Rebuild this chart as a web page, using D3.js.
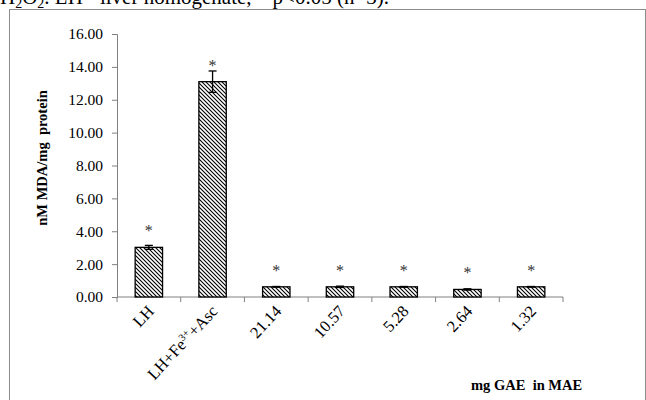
<!DOCTYPE html>
<html>
<head>
<meta charset="utf-8">
<script src="https://cdn.jsdelivr.net/npm/d3@7"></script>
<style>
  html, body { margin: 0; padding: 0; background: #fff; }
  svg { display: block; }
  text { font-family: "Liberation Serif", "Times New Roman", serif; }
</style>
</head>
<body>
<svg id="chart" width="646" height="400"></svg>
<script>
// Treatment groups (x axis)
const categories = ["LH", "LH+Fe3++Asc", "21.14", "10.57", "5.28", "2.64", "1.32"];
// Mean MDA (nM/mg protein)
const means = [3.02, 13.1, 0.62, 0.62, 0.62, 0.46, 0.62];
// Standard errors
const errors = [0.12, 0.65, 0.02, 0.04, 0.02, 0.04, 0.02];
// Significance markers
const marks = ["*", "*", "*", "*", "*", "*", "*"];
// Y axis ticks
const yTicks = [0, 2, 4, 6, 8, 10, 12, 14, 16];

const svg = d3.select("#chart");

// hatched fill for the bars
const defs = svg.append("defs");
const pat = defs.append("pattern")
  .attr("id", "hatch")
  .attr("patternUnits", "userSpaceOnUse")
  .attr("width", 4).attr("height", 4);
pat.append("rect").attr("width", 4).attr("height", 4).attr("fill", "#fff");
pat.append("path")
  .attr("d", "M-1,-1 L5,5 M-1,3 L1,5 M3,-1 L5,1")
  .attr("stroke", "#000").attr("stroke-width", 1.1);

// caption line above the frame (cut at the top edge)
const cap = svg.append("text").attr("x", 0).attr("y", 4)
  .attr("font-size", 21).attr("fill", "#000");
cap.append("tspan").text("H");
cap.append("tspan").attr("font-size", 14).attr("dy", 4).text("2");
cap.append("tspan").attr("dy", -4).text("O");
cap.append("tspan").attr("font-size", 14).attr("dy", 4).text("2");
cap.append("tspan").attr("dy", -4).text(". LH= liver homogenate,  * p<0.05 (n=3).");

// chart frame
svg.append("rect")
  .attr("x", 9.5).attr("y", 9.5)
  .attr("width", 636).attr("height", 400)
  .attr("fill", "none").attr("stroke", "#8c8c8c").attr("stroke-width", 1);

const x0 = 117, x1 = 563, yBase = 297, yTop = 34;
const x = d3.scaleBand().domain(categories).range([x0, x1]).paddingInner(0.57).paddingOuter(0.285);
const y = d3.scaleLinear().domain([0, 16]).range([yBase, yTop]);

// y axis
const yAxis = svg.append("g").attr("transform", `translate(${x0},0)`)
  .call(d3.axisLeft(y).tickValues(yTicks).tickSize(5).tickFormat(d3.format(".2f")));
yAxis.select(".domain").attr("stroke", "#808080");
yAxis.selectAll(".tick line").attr("stroke", "#808080");
yAxis.selectAll(".tick text").attr("font-size", 15.5).attr("fill", "#000")
  .attr("font-family", "Liberation Serif").attr("x", -14);

// x axis with ticks between categories
const xAxis = svg.append("g").attr("transform", `translate(0,${yBase})`);
xAxis.append("line").attr("x1", x0).attr("x2", x1).attr("stroke", "#808080");
const bounds = categories.map(c => x(c) - x.step() * x.paddingInner() / 2);
bounds.push(x1);
xAxis.selectAll("line.tk").data(bounds).join("line").attr("class", "tk")
  .attr("x1", d => d).attr("x2", d => d).attr("y1", 0).attr("y2", 5)
  .attr("stroke", "#808080");

// x category labels, rotated
const lbl = xAxis.selectAll("text.cat").data(categories).join("text").attr("class", "cat")
  .attr("font-size", 16.5).attr("fill", "#000").attr("text-anchor", "end")
  .attr("transform", d => `translate(${x(d) + x.bandwidth() / 2 + 6},${15}) rotate(-47)`);
lbl.each(function (d) {
  const t = d3.select(this);
  if (d === "LH+Fe3++Asc") {
    t.append("tspan").text("LH+Fe");
    t.append("tspan").attr("font-size", 10.5).attr("dy", -6).text("3+");
    t.append("tspan").attr("dy", 6).text("+Asc");
  } else {
    t.text(d);
  }
});

// bars
svg.selectAll("rect.bar").data(categories).join("rect").attr("class", "bar")
  .attr("x", d => x(d)).attr("width", x.bandwidth())
  .attr("y", (d, i) => y(means[i])).attr("height", (d, i) => yBase - y(means[i]))
  .attr("fill", "url(#hatch)").attr("stroke", "#000").attr("stroke-width", 1.3);

// error bars
const eb = svg.selectAll("g.err").data(categories).join("g").attr("class", "err")
  .attr("stroke", "#000").attr("stroke-width", 1.3);
eb.append("line")
  .attr("x1", d => x(d) + x.bandwidth() / 2).attr("x2", d => x(d) + x.bandwidth() / 2)
  .attr("y1", (d, i) => y(means[i] - errors[i])).attr("y2", (d, i) => y(means[i] + errors[i]));
eb.append("line")
  .attr("x1", d => x(d) + x.bandwidth() / 2 - 4).attr("x2", d => x(d) + x.bandwidth() / 2 + 4)
  .attr("y1", (d, i) => y(means[i] + errors[i])).attr("y2", (d, i) => y(means[i] + errors[i]));
eb.append("line")
  .attr("x1", d => x(d) + x.bandwidth() / 2 - 4).attr("x2", d => x(d) + x.bandwidth() / 2 + 4)
  .attr("y1", (d, i) => y(means[i] - errors[i])).attr("y2", (d, i) => y(means[i] - errors[i]));

// significance asterisks
svg.selectAll("text.sig").data(categories).join("text").attr("class", "sig")
  .attr("x", d => x(d) + x.bandwidth() / 2)
  .attr("y", (d, i) => y(means[i]) - 11)
  .attr("text-anchor", "middle").attr("font-size", 16).attr("fill", "#333")
  .text((d, i) => marks[i]);

// axis titles
svg.append("text")
  .attr("transform", "translate(47,158) rotate(-90)")
  .attr("text-anchor", "middle").attr("font-size", 14.5).attr("font-weight", "bold")
  .attr("fill", "#000").attr("xml:space", "preserve")
  .text("nM MDA/mg  protein");

svg.append("text")
  .attr("x", 471).attr("y", 390)
  .attr("font-size", 14.5).attr("font-weight", "bold").attr("fill", "#000")
  .attr("xml:space", "preserve")
  .text("mg GAE  in MAE");
</script>
</body>
</html>
